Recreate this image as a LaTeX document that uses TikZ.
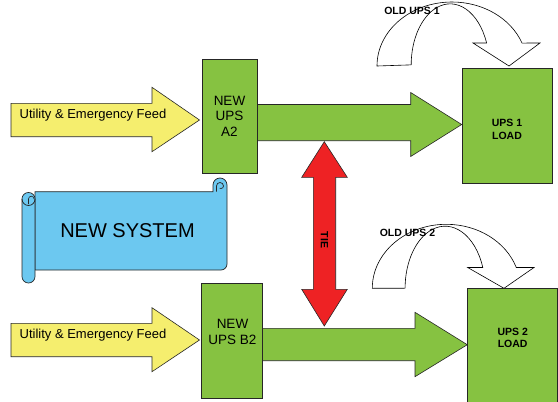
\documentclass[tikz,border=0pt]{standalone}
\usepackage{fontspec}
\setmainfont{Liberation Sans}
\definecolor{upsgreen}{HTML}{86C241}
\definecolor{feedyellow}{HTML}{F5EE6E}
\definecolor{scrollblue}{HTML}{6CC8F0}
\definecolor{tiered}{HTML}{EE2224}
\begin{document}
\begin{tikzpicture}[x=1pt,y=-1pt,
  outline/.style={draw=black!85, line width=0.6pt, line join=miter},
  feed/.style={outline, fill=feedyellow},
  greenarrow/.style={outline, fill=upsgreen},
  upsbox/.style={outline, fill=upsgreen, rectangle, inner sep=0pt, align=center,
    font=\fontsize{13.5}{15.5}\selectfont},
  loadtext/.style={align=center, inner sep=0pt, font=\bfseries\fontsize{10.5}{12.5}\selectfont},
  oldtext/.style={inner sep=0pt, font=\bfseries\fontsize{10.5}{12}\selectfont},
  feedtext/.style={inner sep=0pt, font=\fontsize{13}{15}\selectfont},
  curved/.style={draw=black, line width=0.6pt, fill=white},
  scroll/.style={draw=black!85, line width=0.7pt, fill=scrollblue},
  tiearrow/.style={outline, fill=tiered}
]
\useasboundingbox (0,0) rectangle (558,402);

% ---------- green output arrows (under boxes)
\draw[greenarrow] (245,104.5) -- (410.7,104.5) -- (410.7,92.5) -- (461.7,124.5)
   -- (410.7,156.5) -- (410.7,140.7) -- (245,140.7) -- cycle;
\draw[greenarrow] (250,328.3) -- (415,328.3) -- (415,312.3) -- (467.3,344.7)
   -- (415,376.7) -- (415,360.7) -- (250,360.7) -- cycle;

% ---------- UPS boxes
\node[upsbox, minimum width=55.3pt, minimum height=114.3pt] (a2) at (229.5,116.2) {NEW\\UPS\\A2};
\node[upsbox, minimum width=60.3pt, minimum height=115pt] (b2) at (231.9,340.8) {};
\node[align=center, inner sep=0pt, font=\fontsize{13.5}{16.5}\selectfont] (b2t) at (232.5,332) {NEW\\UPS B2};

% ---------- load boxes
\node[upsbox, minimum width=90.4pt, minimum height=115pt] (l1) at (507.5,125.8) {};
\node[loadtext] (l1t) at (507,129.5) {UPS 1\\LOAD};
\node[upsbox, minimum width=90.4pt, minimum height=122pt] (l2) at (512.5,349.3) {};
\node[loadtext] (l2t) at (512.7,338) {UPS 2\\LOAD};

% ---------- yellow feed arrows
\draw[feed] (11,103.3) -- (152,103.3) -- (152,87.3) -- (199.5,120) -- (152,151.7)
   -- (152,136.7) -- (11,136.7) -- cycle;
\node[feedtext] (f1) at (93,115.5) {Utility \& Emergency Feed};
\draw[feed] (11,323.3) -- (152,323.3) -- (152,307.7) -- (199.5,340) -- (152,371.7)
   -- (152,356.7) -- (11,356.7) -- cycle;
\node[feedtext] (f2) at (93,335.5) {Utility \& Emergency Feed};

% ---------- curved "old UPS" arrows
\draw[curved] (377,66) arc[start angle=180, end angle=339, x radius=75, y radius=64]
   -- (540,43) -- (509,66) -- (473,43) -- (486.6,43)
   arc[start angle=339, end angle=180, x radius=39, y radius=61] -- cycle;
\node[oldtext] (o1) at (412,11) {OLD UPS 1};

\draw[curved] (372.3,288.3) arc[start angle=180, end angle=341, x radius=74, y radius=64]
   -- (534,267.5) -- (504,288.3) -- (467.7,267.5) -- (482.8,267.5)
   arc[start angle=340.5, end angle=180, x radius=40, y radius=62] -- cycle;
\node[oldtext] (o2) at (407.5,233) {OLD UPS 2};

% ---------- TIE double arrow
\draw[tiearrow] (324.3,141.7) -- (347.3,177.3) -- (335.7,177.3) -- (335.7,289.3)
   -- (347.3,289.3) -- (324.3,326) -- (301.7,289.3) -- (313.3,289.3)
   -- (313.3,177.3) -- (301.7,177.3) -- cycle;
\node[rotate=-90, inner sep=0pt, font=\bfseries\fontsize{10.5}{12}\selectfont] (tie) at (324.5,240) {TIE};

% ---------- scroll "NEW SYSTEM"
\draw[scroll] (35,191.7) -- (213,191.7) -- (213,185)
   arc[start angle=180, end angle=360, radius=7] -- (227,264)
   arc[start angle=0, end angle=90, radius=6] -- (35,270) -- cycle;
\draw[scroll] (216.5,191.7) -- (216.5,186) arc[start angle=180, end angle=360, radius=3.5]
   arc[start angle=0, end angle=120, radius=2.5];
\draw[scroll, rounded corners=6.4pt] (22,192.5) rectangle (35,283);
\draw[draw=black!85, line width=0.7pt] (22,199) arc[start angle=180, end angle=0, radius=6.5];
\draw[draw=black!85, line width=0.6pt] (28.5,204) -- (28.5,199) arc[start angle=180, end angle=360, radius=2.8];
\node[inner sep=0pt, font=\fontsize{20}{24}\selectfont] (sys) at (127.5,230.5) {NEW SYSTEM};

\end{tikzpicture}
\end{document}
